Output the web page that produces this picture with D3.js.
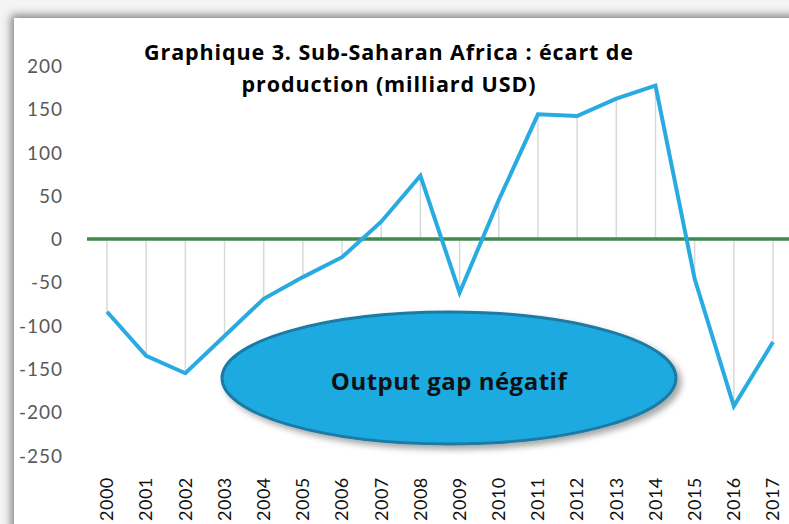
<!DOCTYPE html>
<html><head><meta charset="utf-8">
<script src="https://cdn.jsdelivr.net/npm/d3@7/dist/d3.min.js"></script>
<style>html,body{margin:0;padding:0;background:#fff;}svg{display:block;}</style>
</head><body>
<script>
const years = ["2000","2001","2002","2003","2004","2005","2006","2007","2008","2009","2010","2011","2012","2013","2014","2015","2016","2017"];
const outputGap = [-84,-135,-155,-112,-69,-44,-21,20,73,-62,45,144,142,162,177,-46,-193,-119];
const yTicks = [200,150,100,50,0,-50,-100,-150,-200,-250];
const titleLines = ["Graphique 3. Sub-Saharan Africa : écart de","production (milliard USD)"];
const annotation = "Output gap négatif";

const W = 789, H = 524;
const svg = d3.select("body").append("svg").attr("width", W).attr("height", H);
const defs = svg.append("defs");
const f = defs.append("filter").attr("id","frameShadow").attr("x","-10%").attr("y","-10%").attr("width","120%").attr("height","120%");
f.append("feDropShadow").attr("dx",-3).attr("dy",-3).attr("stdDeviation",4).attr("flood-color","#777").attr("flood-opacity",0.9);
const f2 = defs.append("filter").attr("id","ellShadow").attr("x","-20%").attr("y","-30%").attr("width","140%").attr("height","160%");
f2.append("feDropShadow").attr("dx",4).attr("dy",4).attr("stdDeviation",3).attr("flood-color","#000").attr("flood-opacity",0.35);

svg.append("rect").attr("width",W).attr("height",H).attr("fill","#f4f4f4");
svg.append("rect").attr("x",14).attr("y",18).attr("width",W).attr("height",H).attr("fill","#fff").attr("filter","url(#frameShadow)");

const x = d3.scalePoint().domain(years).range([107,773]);
const y = d3.scaleLinear().domain([-250,200]).range([455.5,65.8]);

// drop lines
svg.append("g").selectAll("line").data(years).join("line")
  .attr("x1", d=>x(d)).attr("x2", d=>x(d))
  .attr("y1", y(0)).attr("y2", (d,i)=>y(outputGap[i]))
  .attr("stroke","#d9d9d9").attr("stroke-width",1.5);

// zero line
svg.append("line").attr("x1",87).attr("x2",W).attr("y1",y(0)).attr("y2",y(0))
  .attr("stroke","#3f8a4f").attr("stroke-width",3.5);

// y axis
const yAxis = d3.axisLeft(y).tickValues(yTicks).tickSize(0).tickPadding(0).tickFormat(d=>String(d));
const gy = svg.append("g").attr("transform","translate(63,0)").call(yAxis);
gy.select(".domain").remove();
gy.selectAll("text").attr("fill","#595959").style("font-family","Lato, sans-serif").style("font-size","19px")
  .style("letter-spacing","1px").attr("dy","0.35em");

// x axis
const xAxis = d3.axisBottom(x).tickSize(0).tickPadding(0);
const gx = svg.append("g").call(xAxis);
gx.select(".domain").remove();
gx.selectAll(".tick").attr("transform",null);
gx.selectAll("text").attr("fill","#111").style("font-family","Lato, sans-serif").style("font-size","18px")
  .style("letter-spacing","0.5px")
  .attr("text-anchor","start").attr("dy","0.35em").attr("y",0).attr("x",0)
  .attr("transform", d=>`translate(${x(d)},521) rotate(-90)`);

// line
svg.append("path").datum(outputGap)
  .attr("d", d3.line().x((d,i)=>x(years[i])).y(d=>y(d)))
  .attr("fill","none").attr("stroke","#29abe2").attr("stroke-width",4).attr("stroke-linejoin","miter");

// title
svg.append("text").attr("x",389).attr("y",60).attr("text-anchor","middle")
  .style("font-family","'Open Sans', sans-serif").style("font-weight","bold").style("font-size","21.5px")
  .style("letter-spacing","0.9px").attr("fill","#000")
  .selectAll("tspan").data(titleLines).join("tspan").attr("x",389).attr("dy",(d,i)=>i?32:0).text(d=>d);

// annotation ellipse
svg.append("ellipse").attr("cx",449).attr("cy",378).attr("rx",227).attr("ry",66)
  .attr("fill","#1eaae1").attr("stroke","#1a7aa3").attr("stroke-width",3).attr("filter","url(#ellShadow)");
svg.append("text").attr("x",449).attr("y",390).attr("text-anchor","middle")
  .style("font-family","'Open Sans', sans-serif").style("font-weight","bold").style("font-size","24px")
  .style("letter-spacing","0.5px").attr("fill","#111")
  .text(annotation);
</script>
</body></html>
